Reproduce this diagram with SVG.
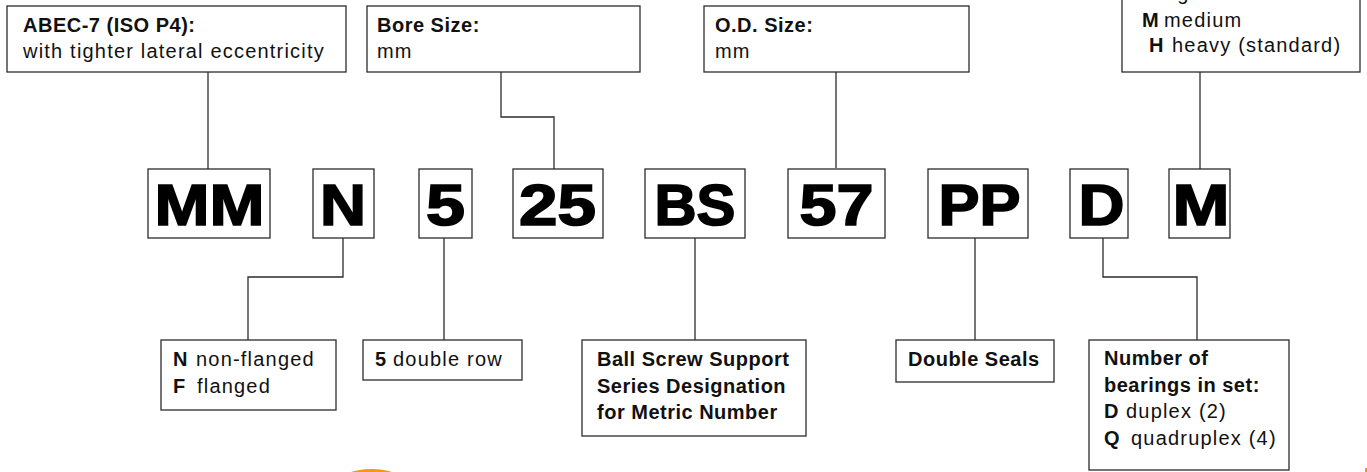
<svg xmlns="http://www.w3.org/2000/svg" width="1367" height="472" viewBox="0 0 1367 472">
<defs>
<style>
.box{fill:#fff;stroke:#2b2b2b;stroke-width:1.3}
.ln{fill:none;stroke:#2b2b2b;stroke-width:1.3}
.t{font-family:"Liberation Sans",Arial,sans-serif;font-size:20px;letter-spacing:1.2px;fill:#111}
.b{font-weight:bold;letter-spacing:0.5px}
.big{font-family:"Liberation Sans",Arial,sans-serif;font-size:57px;font-weight:bold;fill:#000;stroke:#000;stroke-width:1.6;text-anchor:middle}
</style>
<linearGradient id="og" x1="0" y1="0" x2="1" y2="0">
<stop offset="0" stop-color="#f7941d" stop-opacity="0"/>
<stop offset="0.2" stop-color="#f7941d"/>
<stop offset="0.8" stop-color="#f7941d"/>
<stop offset="1" stop-color="#f7941d" stop-opacity="0"/>
</linearGradient>
</defs>
<rect width="1367" height="472" fill="#fff"/>

<g id="connectors">
<polyline class="ln" points="208,72 208,169"/>
<polyline class="ln" points="501,72 501,117 554,117 554,169"/>
<polyline class="ln" points="836,72 836,168"/>
<polyline class="ln" points="1200,72 1200,169"/>
<polyline class="ln" points="343,238 343,277 248,277 248,340"/>
<polyline class="ln" points="444,238 444,340"/>
<polyline class="ln" points="695,238 695,340"/>
<polyline class="ln" points="975,238 975,340"/>
<polyline class="ln" points="1103,238 1103,277 1197,277 1197,340"/>
</g>

<g id="n-abec">
<rect class="box" x="7" y="6" width="339" height="66"/>
<text class="t b" x="23" y="32">ABEC-7 (ISO P4):</text>
<text class="t" x="23" y="58">with tighter lateral eccentricity</text>
</g>
<g id="n-bore">
<rect class="box" x="367" y="6" width="273" height="66"/>
<text class="t b" x="377" y="32">Bore Size:</text>
<text class="t" x="377" y="58">mm</text>
</g>
<g id="n-od">
<rect class="box" x="704" y="6" width="265" height="66"/>
<text class="t b" x="715" y="32">O.D. Size:</text>
<text class="t" x="715" y="58">mm</text>
</g>
<g id="n-preload">
<rect class="box" x="1122" y="-30" width="238" height="102"/>
<text class="t b" x="1150" y="0">L</text>
<text class="t" x="1166" y="0">light</text>
<text class="t b" x="1142" y="27">M</text>
<text class="t" x="1164" y="27">medium</text>
<text class="t b" x="1149" y="52">H</text>
<text class="t" x="1172" y="52">heavy (standard)</text>
</g>

<g id="c-mm"><rect class="box" x="148" y="169" width="122" height="69"/><text class="big" x="209.5" y="225" textLength="110" lengthAdjust="spacingAndGlyphs">MM</text></g>
<g id="c-n"><rect class="box" x="313" y="169" width="61" height="69"/><text class="big" x="343" y="225" textLength="46" lengthAdjust="spacingAndGlyphs">N</text></g>
<g id="c-5"><rect class="box" x="419" y="169" width="53" height="69"/><text class="big" x="445.5" y="225" textLength="39" lengthAdjust="spacingAndGlyphs">5</text></g>
<g id="c-25"><rect class="box" x="513" y="169" width="90" height="69"/><text class="big" x="557.5" y="225" textLength="77" lengthAdjust="spacingAndGlyphs">25</text></g>
<g id="c-bs"><rect class="box" x="645" y="169" width="100" height="69"/><text class="big" x="695" y="225" textLength="81" lengthAdjust="spacingAndGlyphs">BS</text></g>
<g id="c-57"><rect class="box" x="788" y="169" width="97" height="69"/><text class="big" x="836.5" y="225" textLength="74" lengthAdjust="spacingAndGlyphs">57</text></g>
<g id="c-pp"><rect class="box" x="928" y="169" width="100" height="69"/><text class="big" x="979.5" y="225" textLength="82" lengthAdjust="spacingAndGlyphs">PP</text></g>
<g id="c-d"><rect class="box" x="1070" y="169" width="58" height="69"/><text class="big" x="1101.5" y="225" textLength="46" lengthAdjust="spacingAndGlyphs">D</text></g>
<g id="c-m"><rect class="box" x="1169" y="169" width="61" height="69"/><text class="big" x="1201" y="225" textLength="57" lengthAdjust="spacingAndGlyphs">M</text></g>

<g id="n-flange">
<rect class="box" x="161" y="340" width="175" height="70"/>
<text class="t b" x="173" y="366">N</text><text class="t" x="196" y="366">non-flanged</text>
<text class="t b" x="173" y="393">F</text><text class="t" x="197" y="393">flanged</text>
</g>
<g id="n-row">
<rect class="box" x="363" y="340" width="159" height="40"/>
<text class="t b" x="375" y="366">5</text><text class="t" x="393" y="366">double row</text>
</g>
<g id="n-series">
<rect class="box" x="582" y="340" width="224" height="96"/>
<text class="t b" x="597" y="366">Ball Screw Support</text>
<text class="t b" x="597" y="393">Series Designation</text>
<text class="t b" x="597" y="419">for Metric Number</text>
</g>
<g id="n-seals">
<rect class="box" x="896" y="340" width="158" height="42"/>
<text class="t b" x="908" y="366">Double Seals</text>
</g>
<g id="n-set">
<rect class="box" x="1089" y="340" width="200" height="130"/>
<text class="t b" x="1104" y="365">Number of</text>
<text class="t b" x="1104" y="392">bearings in set:</text>
<text class="t b" x="1104" y="418">D</text><text class="t" x="1126" y="418">duplex (2)</text>
<text class="t b" x="1104" y="445">Q</text><text class="t" x="1131" y="445">quadruplex (4)</text>
</g>

<ellipse cx="371.5" cy="485" rx="35" ry="16" fill="url(#og)"/>
<rect x="1365" y="468" width="2" height="4" fill="#f7941d"/>
</svg>
